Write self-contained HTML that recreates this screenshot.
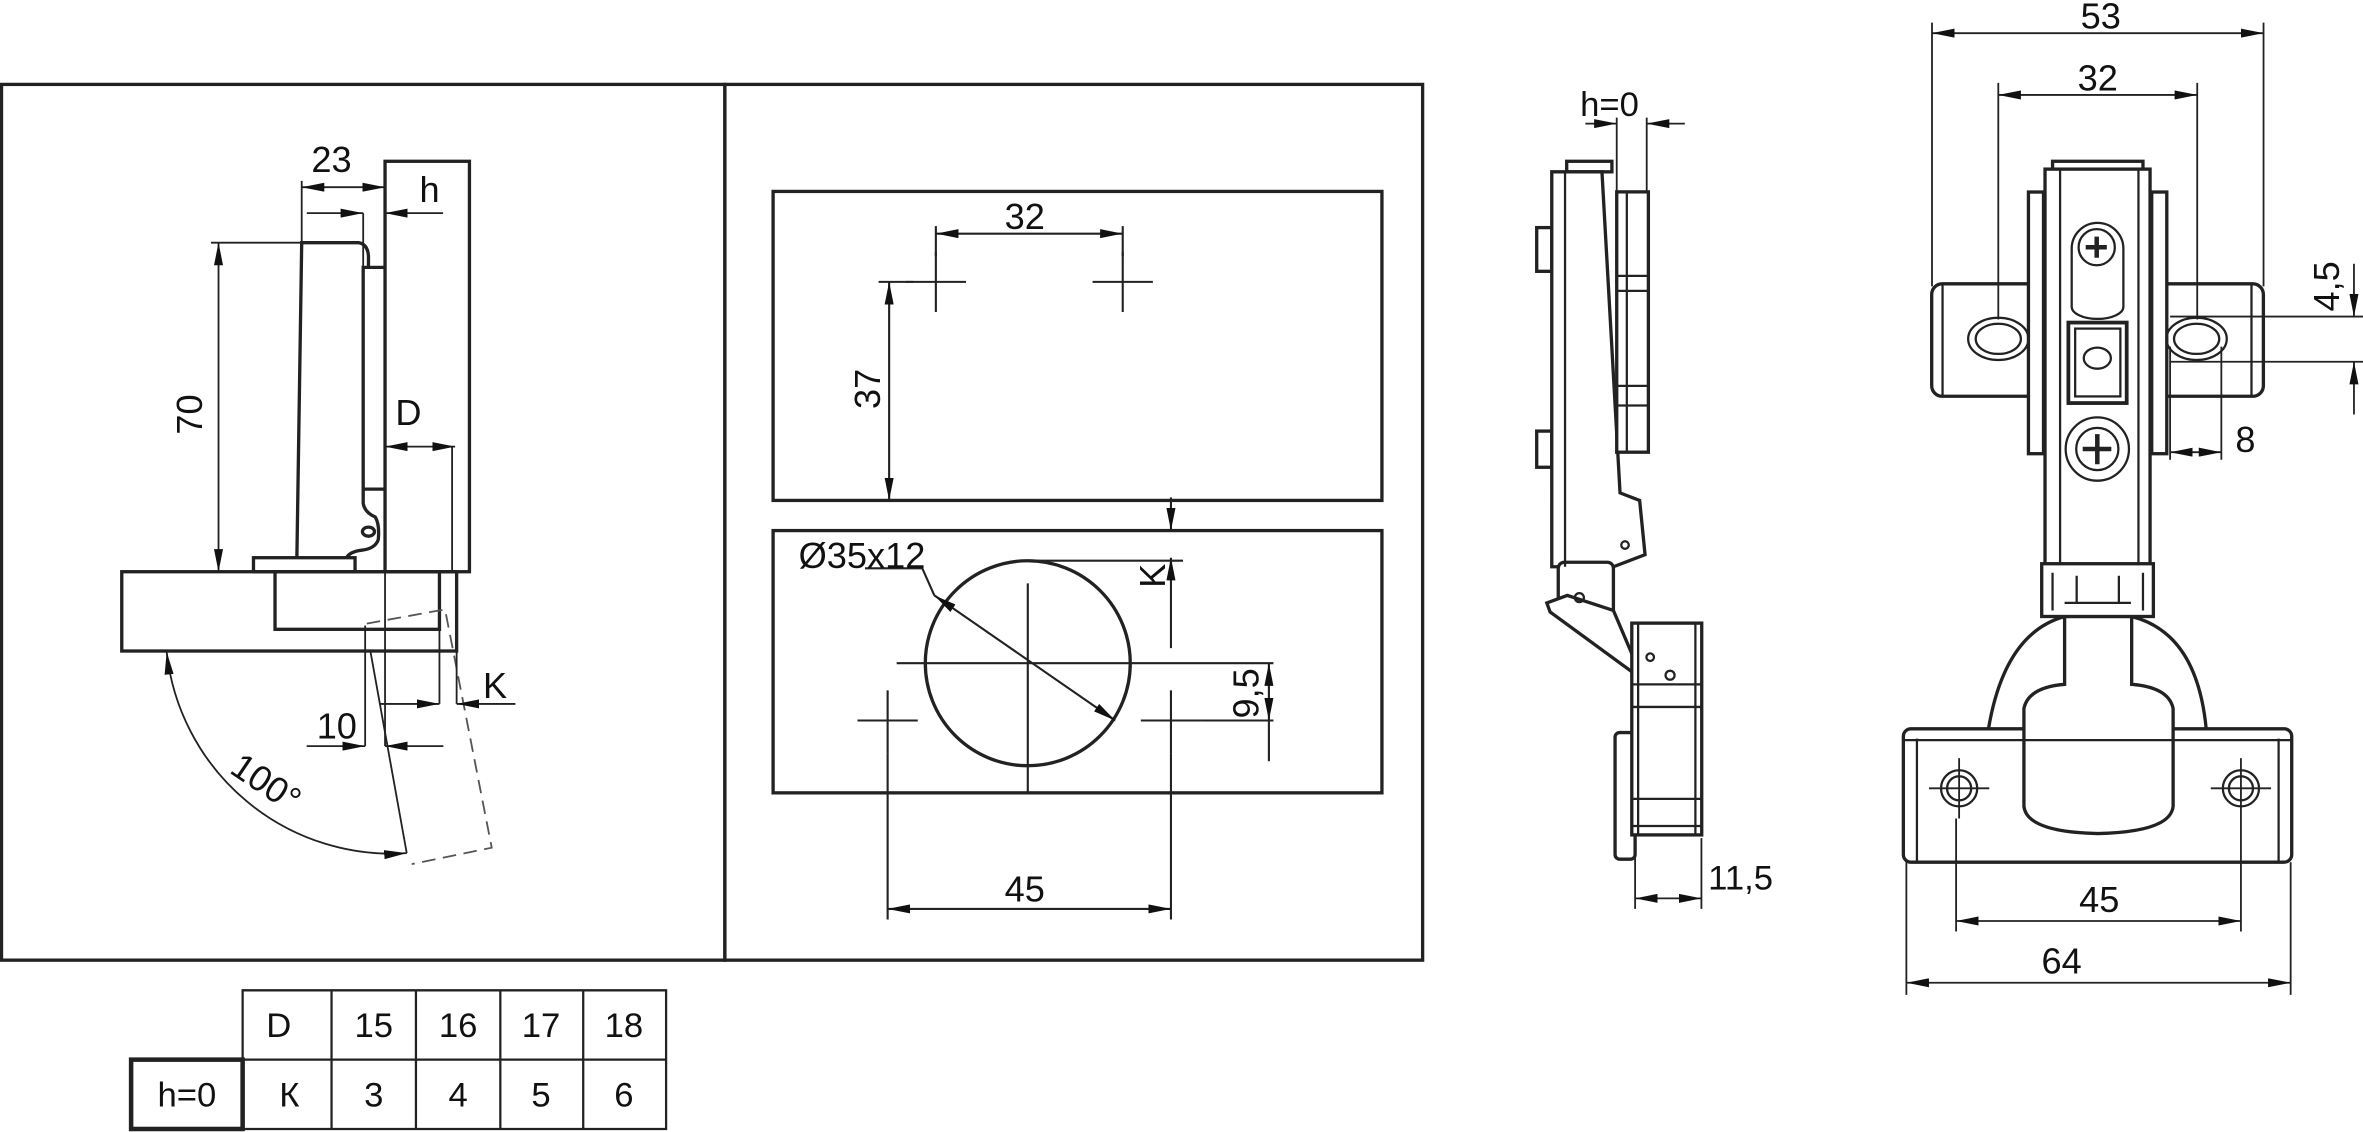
<!DOCTYPE html>
<html><head><meta charset="utf-8"><style>
html,body{margin:0;padding:0;background:#fff;}
svg{display:block;}
text{font-family:"Liberation Sans",sans-serif;fill:#111;}
</style></head><body>
<svg width="2363" height="1132" viewBox="0 0 1568 751" preserveAspectRatio="none" xmlns="http://www.w3.org/2000/svg">
<defs>
<marker id="a" viewBox="0 0 15 6" refX="15" refY="3" markerWidth="15" markerHeight="6" markerUnits="userSpaceOnUse" orient="auto-start-reverse"><path d="M0,0 L15,3 L0,6 z" fill="#111"/></marker>
</defs>
<g fill="none" stroke="#222" stroke-width="2.2">
<rect x="1" y="56" width="480" height="581"/>
<rect x="481" y="56" width="463" height="581"/>
</g>

<!-- LEFT DRAWING -->
<g fill="none" stroke="#222" stroke-width="2.2">
<rect x="255.5" y="107" width="56" height="272.3"/>
<rect x="80.8" y="379.3" width="222.2" height="52.6"/>
<rect x="182.5" y="379.3" width="109.1" height="38.2"/>
<rect x="168.2" y="370" width="67.4" height="9.3"/>
<path d="M197,370 L200.2,161 L238,161 Q244,162 244.5,170 L244.5,177.4"/>
<path d="M241,324.5 L241,177.4 L255.5,177.4 M241,324.5 L255.5,324.5 M241,324.5 L241,334 Q242,340 249,343 Q252,348 251,358 Q249,364 240,365 Q232,366 230,370"/>
<ellipse cx="244.5" cy="352.7" rx="4" ry="3"/>
</g>
<g fill="none" stroke="#222" stroke-width="1.2">
<path d="M245.6,431 L269.9,566"/>
<path d="M243.4,413.7 L295.3,404.3 L326.3,562.4 L273.2,573.3" stroke="#555" stroke-dasharray="9,5"/>
<path d="M242.3,415 V495 M255.5,379 V495 M291.6,417 V467 M303,379 V467 M300,296 V379"/>
<path d="M203.5,495 H242.3" marker-end="url(#a)"/>
<path d="M294.2,495 H255.5" marker-end="url(#a)"/>
<path d="M252,467 H291.6" marker-end="url(#a)"/>
<path d="M342,467 H303" marker-end="url(#a)"/>
<path d="M255.5,296.3 H302" marker-start="url(#a)" marker-end="url(#a)"/>
<path d="M294,141.4 H255.5" marker-end="url(#a)"/>
<path d="M203.6,141.4 H241" marker-end="url(#a)"/>
<path d="M241,141.4 V177"/>
<path d="M200.2,124.2 H255.5" marker-start="url(#a)" marker-end="url(#a)"/>
<path d="M200.2,120 V161"/>
<path d="M145,161 V379.3" marker-start="url(#a)" marker-end="url(#a)"/>
<path d="M140,161 H200"/>
<path d="M110.6,432.5 A150 150 0 0 0 269.9,566" marker-start="url(#a)" marker-end="url(#a)"/>
</g>
<g font-size="24">
<text x="220" y="114" text-anchor="middle">23</text>
<text x="285" y="134" text-anchor="middle">h</text>
<text x="271" y="282" text-anchor="middle">D</text>
<text x="328.5" y="463" text-anchor="middle">K</text>
<text x="223.5" y="490" text-anchor="middle">10</text>
<text transform="translate(134,275) rotate(-90)" text-anchor="middle">70</text>
<text transform="translate(172,526) rotate(34)" text-anchor="middle">100°</text>
</g>

<!-- MIDDLE DRAWING -->
<g fill="none" stroke="#222" stroke-width="2.2">
<rect x="513" y="127" width="404" height="205"/>
<rect x="513" y="352" width="404" height="174"/>
<circle cx="682" cy="440" r="68"/>
</g>
<g fill="none" stroke="#222" stroke-width="1.4">
<path d="M601,187 H641 M621,167 V207 M725,187 H765 M745,167 V207"/>
<path d="M621,150 V170 M745,150 V170"/>
<path d="M621,155 H745" marker-start="url(#a)" marker-end="url(#a)"/>
<path d="M583,187 H606"/>
<path d="M590,187 V332" marker-start="url(#a)" marker-end="url(#a)"/>
<path d="M595,440 H785 M682,387 V527"/>
<path d="M569,478 H609 M589,458 V500 M757,478 H797 M777,458 V500"/>
<path d="M589,500 V610 M777,500 V610"/>
<path d="M589,603 H777" marker-start="url(#a)" marker-end="url(#a)"/>
<path d="M620,395 L740,478" marker-start="url(#a)" marker-end="url(#a)"/>
<path d="M574,377 H612 L620,395"/>
<path d="M777,330 V352" marker-end="url(#a)"/>
<path d="M777,430 V370" marker-end="url(#a)"/>
<path d="M682,372 H785"/>
<path d="M785,440 H845 M797,478 H845"/>
<path d="M842,440 V478" marker-start="url(#a)" marker-end="url(#a)"/>
<path d="M842,478 V505"/>
</g>
<g font-size="24">
<text x="680" y="152" text-anchor="middle">32</text>
<text transform="translate(584,258) rotate(-90)" text-anchor="middle">37</text>
<text x="572" y="377" text-anchor="middle">Ø35x12</text>
<text transform="translate(773,382) rotate(-90)" text-anchor="middle">K</text>
<text transform="translate(835,460) rotate(-90)" text-anchor="middle">9,5</text>
<text x="680" y="598" text-anchor="middle">45</text>
</g>

<!-- TABLE -->
<g fill="none" stroke="#222" stroke-width="1.5">
<path d="M161,657 H442 V749 H161 Z M161,703 H442 M220,657 V749 M276,657 V749 M332,657 V749 M387,657 V749"/>
<rect x="87" y="703" width="74" height="46" stroke-width="3"/>
</g>
<g font-size="23" text-anchor="middle">
<text x="185" y="688">D</text><text x="248" y="688">15</text><text x="304" y="688">16</text><text x="359" y="688">17</text><text x="414" y="688">18</text>
<text x="124" y="734">h=0</text><text x="192" y="734">К</text><text x="248" y="734">3</text><text x="304" y="734">4</text><text x="359" y="734">5</text><text x="414" y="734">6</text>
</g>

<!-- SIDE HINGE -->
<g fill="#fff" stroke="#222" stroke-width="2.2">
<rect x="1019.7" y="151" width="10" height="29"/>
<rect x="1019.7" y="286" width="10" height="24"/>
<rect x="1039.6" y="107" width="30" height="7"/>
<path d="M1029.7,114 H1063 L1075,327 L1088,332 L1091.6,368 L1070.6,376 L1029.7,376 Z"/>
<rect x="1072.8" y="127.3" width="21" height="172.7"/>
<rect x="1034" y="373" width="36.6" height="35.3" rx="4"/>
<path d="M1026.4,400 L1028.6,406 L1082.8,445.6 L1085,438.8 L1070.6,405 L1040,395 Z"/>
<rect x="1071.7" y="486" width="13.3" height="84" rx="3"/>
<rect x="1082.8" y="413.4" width="46.4" height="140.5"/>
</g>
<g fill="none" stroke="#222" stroke-width="1.5">
<path d="M1038.5,114 V376 M1079.5,127 V300 M1073,183 H1094 M1073,193 H1094 M1073,256 H1094 M1073,269 H1094"/>
<path d="M1087,413 V554 M1083,454 H1129 M1083,469 H1129 M1083,530 H1129 M1083,548 H1129 M1125,413 V554"/>
<circle cx="1078.3" cy="361.6" r="2.5"/>
<circle cx="1048" cy="396.5" r="3"/>
<circle cx="1108.2" cy="448" r="3"/>
<circle cx="1095" cy="436" r="2.5"/>
</g>
<g fill="none" stroke="#222" stroke-width="1.2">
<path d="M1072.8,78 V127 M1092.7,78 V127"/>
<path d="M1052,82 H1072.8" marker-end="url(#a)"/>
<path d="M1118,82 H1092.7" marker-end="url(#a)"/>
<path d="M1085,560 V603 M1129,556 V603"/>
<path d="M1085,596 H1129" marker-start="url(#a)" marker-end="url(#a)"/>
</g>
<g font-size="23">
<text x="1068" y="77" text-anchor="middle">h=0</text>
<text x="1155" y="590" text-anchor="middle">11,5</text>
</g>

<!-- FRONT HINGE -->
<g fill="#fff" stroke="#222" stroke-width="2.2">
<path d="M1319.4,484 Q1330,420 1370,409 L1414.5,409 Q1458,420 1464,484 Z"/>
<rect x="1263" y="483.5" width="257.7" height="88.5" rx="5"/>
<path d="M1370,409 V454 Q1346,456 1343,470 V535 Q1345,552 1392,553 Q1440,552 1442,535 V470 Q1439,456 1414.5,454 V409 Z"/>
<rect x="1281.8" y="188.3" width="69.7" height="74.6" rx="7"/>
<rect x="1431" y="188.3" width="70.9" height="74.6" rx="7"/>
<rect x="1346" y="127.4" width="10" height="173.6"/>
<rect x="1427.8" y="127.4" width="10" height="173.6"/>
<rect x="1362" y="107" width="60" height="6"/>
<rect x="1357" y="112.2" width="69.7" height="262"/>
<rect x="1354.8" y="374" width="74.1" height="35"/>
</g>
<g fill="none" stroke="#222" stroke-width="1.5">
<path d="M1289,188 V263 M1494,188 V263 M1367,112 V374 M1419,112 V374"/>
<path d="M1272,490 V572 M1512,490 V572 M1263,491 H1520"/>
<path d="M1362,380 V405 M1422,380 V405 M1378,382 V400 M1406,382 V400 M1370,400 H1414"/>
<ellipse cx="1326" cy="224.8" rx="20" ry="14"/><ellipse cx="1326" cy="224.8" rx="15" ry="10"/>
<ellipse cx="1457.6" cy="224.8" rx="20" ry="14"/><ellipse cx="1457.6" cy="224.8" rx="15" ry="10"/>
<path d="M1374.7,203.5 V165 A17 17 0 0 1 1409,165 V203.5 A17 8 0 0 1 1374.7,203.5 Z"/>
<circle cx="1391.3" cy="164" r="12"/>
<path d="M1384,164 H1398 M1391.3,157 V171" stroke-width="3"/>
<rect x="1372.5" y="214" width="38.7" height="53.4" stroke-width="2.5"/>
<rect x="1377" y="218" width="30" height="45"/>
<ellipse cx="1391.7" cy="237.6" rx="9" ry="7"/>
<circle cx="1391.7" cy="297.9" r="21"/><circle cx="1391.7" cy="297.9" r="14"/>
<path d="M1382,297.9 H1401 M1391.7,288 V308" stroke-width="3"/>
<circle cx="1300" cy="523" r="12"/><circle cx="1300" cy="523" r="8"/>
<circle cx="1487" cy="523" r="12"/><circle cx="1487" cy="523" r="8"/>
</g>
<g fill="none" stroke="#222" stroke-width="1.2">
<path d="M1280,523 H1320 M1300,503 V543 M1467,523 H1507 M1487,503 V543"/>
<path d="M1282,15 V190 M1502,15 V190 M1326,55 V212 M1458,55 V212"/>
<path d="M1282,22 H1502" marker-start="url(#a)" marker-end="url(#a)"/>
<path d="M1326,63 H1458" marker-start="url(#a)" marker-end="url(#a)"/>
<path d="M1440,210 H1568 M1440,240 H1568"/>
<path d="M1562,175 V210" marker-end="url(#a)"/>
<path d="M1562,275 V240" marker-end="url(#a)"/>
<path d="M1440,230 V305 M1474,230 V305"/>
<path d="M1440,300 H1474" marker-start="url(#a)" marker-end="url(#a)"/>
<path d="M1298,543 V618 M1487,543 V618 M1265,572 V660 M1520,572 V660"/>
<path d="M1298,611 H1487" marker-start="url(#a)" marker-end="url(#a)"/>
<path d="M1265,652 H1520" marker-start="url(#a)" marker-end="url(#a)"/>
</g>
<g font-size="24" text-anchor="middle">
<text x="1394" y="19">53</text>
<text x="1392" y="60">32</text>
<text transform="translate(1552,190) rotate(-90)">4,5</text>
<text x="1490" y="300">8</text>
<text x="1393" y="605">45</text>
<text x="1368" y="646">64</text>
</g>
</svg>
</body></html>
